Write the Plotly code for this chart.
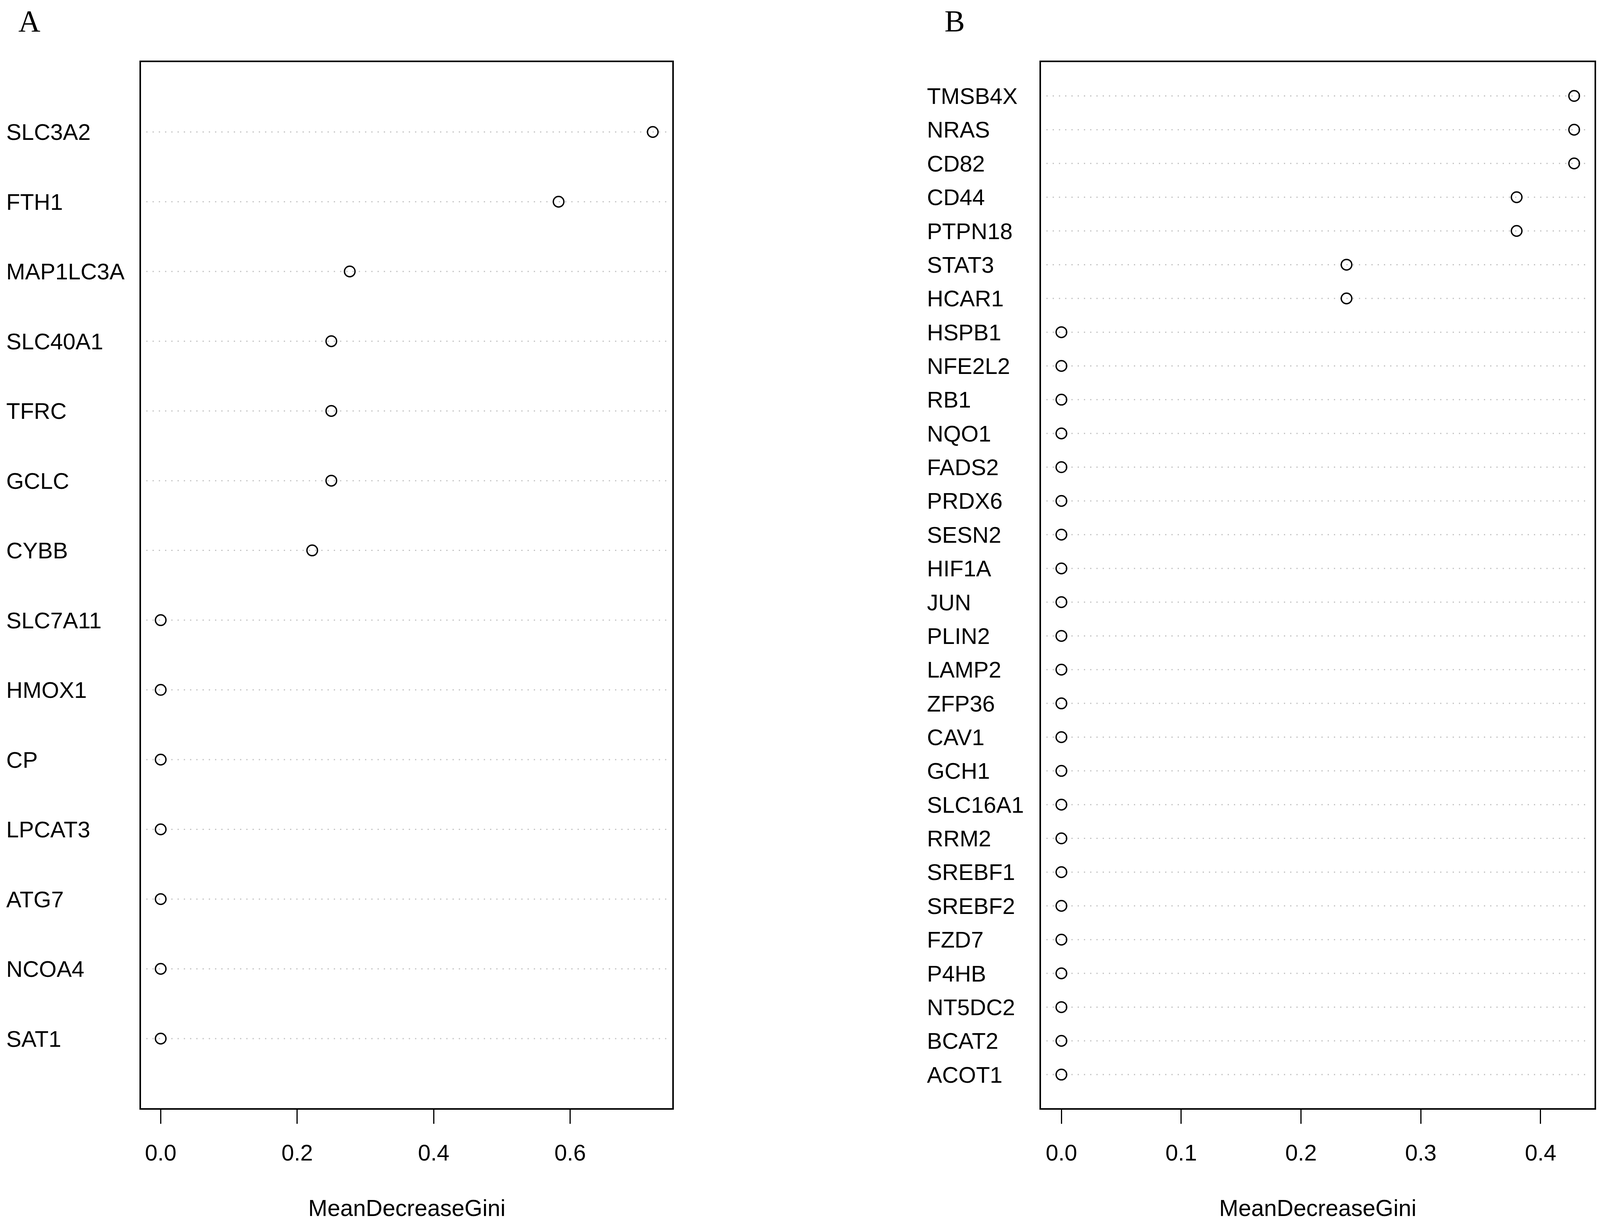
import plotly.graph_objects as go

# ---------------- data ----------------
genes_a = ["SLC3A2", "FTH1", "MAP1LC3A", "SLC40A1", "TFRC", "GCLC", "CYBB",
           "SLC7A11", "HMOX1", "CP", "LPCAT3", "ATG7", "NCOA4", "SAT1"]
gini_a = [0.721, 0.583, 0.277, 0.250, 0.250, 0.250, 0.222,
          0.0, 0.0, 0.0, 0.0, 0.0, 0.0, 0.0]

genes_b = ["TMSB4X", "NRAS", "CD82", "CD44", "PTPN18", "STAT3", "HCAR1",
           "HSPB1", "NFE2L2", "RB1", "NQO1", "FADS2", "PRDX6", "SESN2",
           "HIF1A", "JUN", "PLIN2", "LAMP2", "ZFP36", "CAV1", "GCH1",
           "SLC16A1", "RRM2", "SREBF1", "SREBF2", "FZD7", "P4HB", "NT5DC2",
           "BCAT2", "ACOT1"]
gini_b = [0.428, 0.428, 0.428, 0.380, 0.380, 0.238, 0.238,
          0.0, 0.0, 0.0, 0.0, 0.0, 0.0, 0.0,
          0.0, 0.0, 0.0, 0.0, 0.0, 0.0, 0.0,
          0.0, 0.0, 0.0, 0.0, 0.0, 0.0, 0.0,
          0.0, 0.0]

ticks_a = [0.0, 0.2, 0.4, 0.6]
ticks_b = [0.0, 0.1, 0.2, 0.3, 0.4]
x_title = "MeanDecreaseGini"
panel_labels = ["A", "B"]

# ---------------- figure ----------------
W, H = 4317, 3135   # reference canvas, used only to express fractions
SANS = "Liberation Sans, Arial, sans-serif"
SERIF = "Liberation Serif, Times New Roman, serif"
FS = 58

fig = go.Figure()

panels = [
    dict(genes=genes_a, vals=gini_a, ticks=ticks_a, xa="x", ya="y",
         xdom=[373.5 / W, 1813 / W], label_x=6 / W, letter_x=71 / W),
    dict(genes=genes_b, vals=gini_b, ticks=ticks_b, xa="x2", ya="y2",
         xdom=[2811 / W, 4311 / W], label_x=2500 / W, letter_x=2578 / W),
]
ydom = [1 - 2843 / H, 1 - 152 / H]

shapes = []
annotations = []
for k, p in enumerate(panels):
    n = len(p["genes"])
    ypos = [n - i for i in range(n)]
    # dotted guide lines
    for yv in ypos:
        shapes.append(dict(type="line", xref=p["xa"] + " domain", yref=p["ya"],
                           x0=0.01, x1=0.99, y0=yv, y1=yv,
                           line=dict(color="#BEBEBE", width=3, dash="3px,13px"),
                           layer="below"))
    fig.add_trace(go.Scatter(
        x=p["vals"], y=ypos, mode="markers", xaxis=p["xa"], yaxis=p["ya"],
        marker=dict(symbol="circle-open", size=27, color="black",
                    line=dict(width=3.5, color="black")),
        showlegend=False, hoverinfo="skip"))
    # gene labels (left-aligned like R dotchart)
    for g, yv in zip(p["genes"], ypos):
        annotations.append(dict(text=g, xref="paper", yref=p["ya"], x=p["label_x"], y=yv,
                                xanchor="left", yanchor="middle", showarrow=False,
                                font=dict(family=SANS, size=FS, color="black")))
    # axis title
    annotations.append(dict(text=x_title, xref=p["xa"] + " domain", yref="paper",
                            x=0.5, y=0.0, xanchor="center", yanchor="bottom",
                            showarrow=False,
                            font=dict(family=SANS, size=59, color="black")))
    # panel letter
    annotations.append(dict(text=panel_labels[k], xref="paper", yref="paper",
                            x=p["letter_x"], y=1, xanchor="center", yanchor="top",
                            showarrow=False,
                            font=dict(family=SERIF, size=78, color="black")))

    M = max(p["vals"])
    xr = [-0.04 * M, 1.04 * M]
    axis_common = dict(showline=True, mirror=True, linecolor="black", linewidth=3.5,
                       showgrid=False, zeroline=False)
    xkey = "xaxis" if p["xa"] == "x" else "xaxis2"
    ykey = "yaxis" if p["ya"] == "y" else "yaxis2"
    fig.update_layout(**{
        xkey: dict(domain=p["xdom"], range=xr, anchor=p["ya"],
                   tickvals=p["ticks"], ticktext=[f"{t:.1f}" for t in p["ticks"]],
                   ticks="outside", ticklen=36, tickwidth=3, tickcolor="black",
                   ticklabelstandoff=24,
                   tickfont=dict(family=SANS, size=FS, color="black"),
                   **axis_common),
        ykey: dict(domain=ydom, range=[0, n + 1], anchor=p["xa"],
                   showticklabels=False, ticks="", **axis_common),
    })

fig.update_layout(autosize=True, margin=dict(l=0, r=0, t=0, b=0),
                  paper_bgcolor="white", plot_bgcolor="white",
                  shapes=shapes, annotations=annotations)

fig.write_html("out.html", default_width="100%", default_height="100%")
